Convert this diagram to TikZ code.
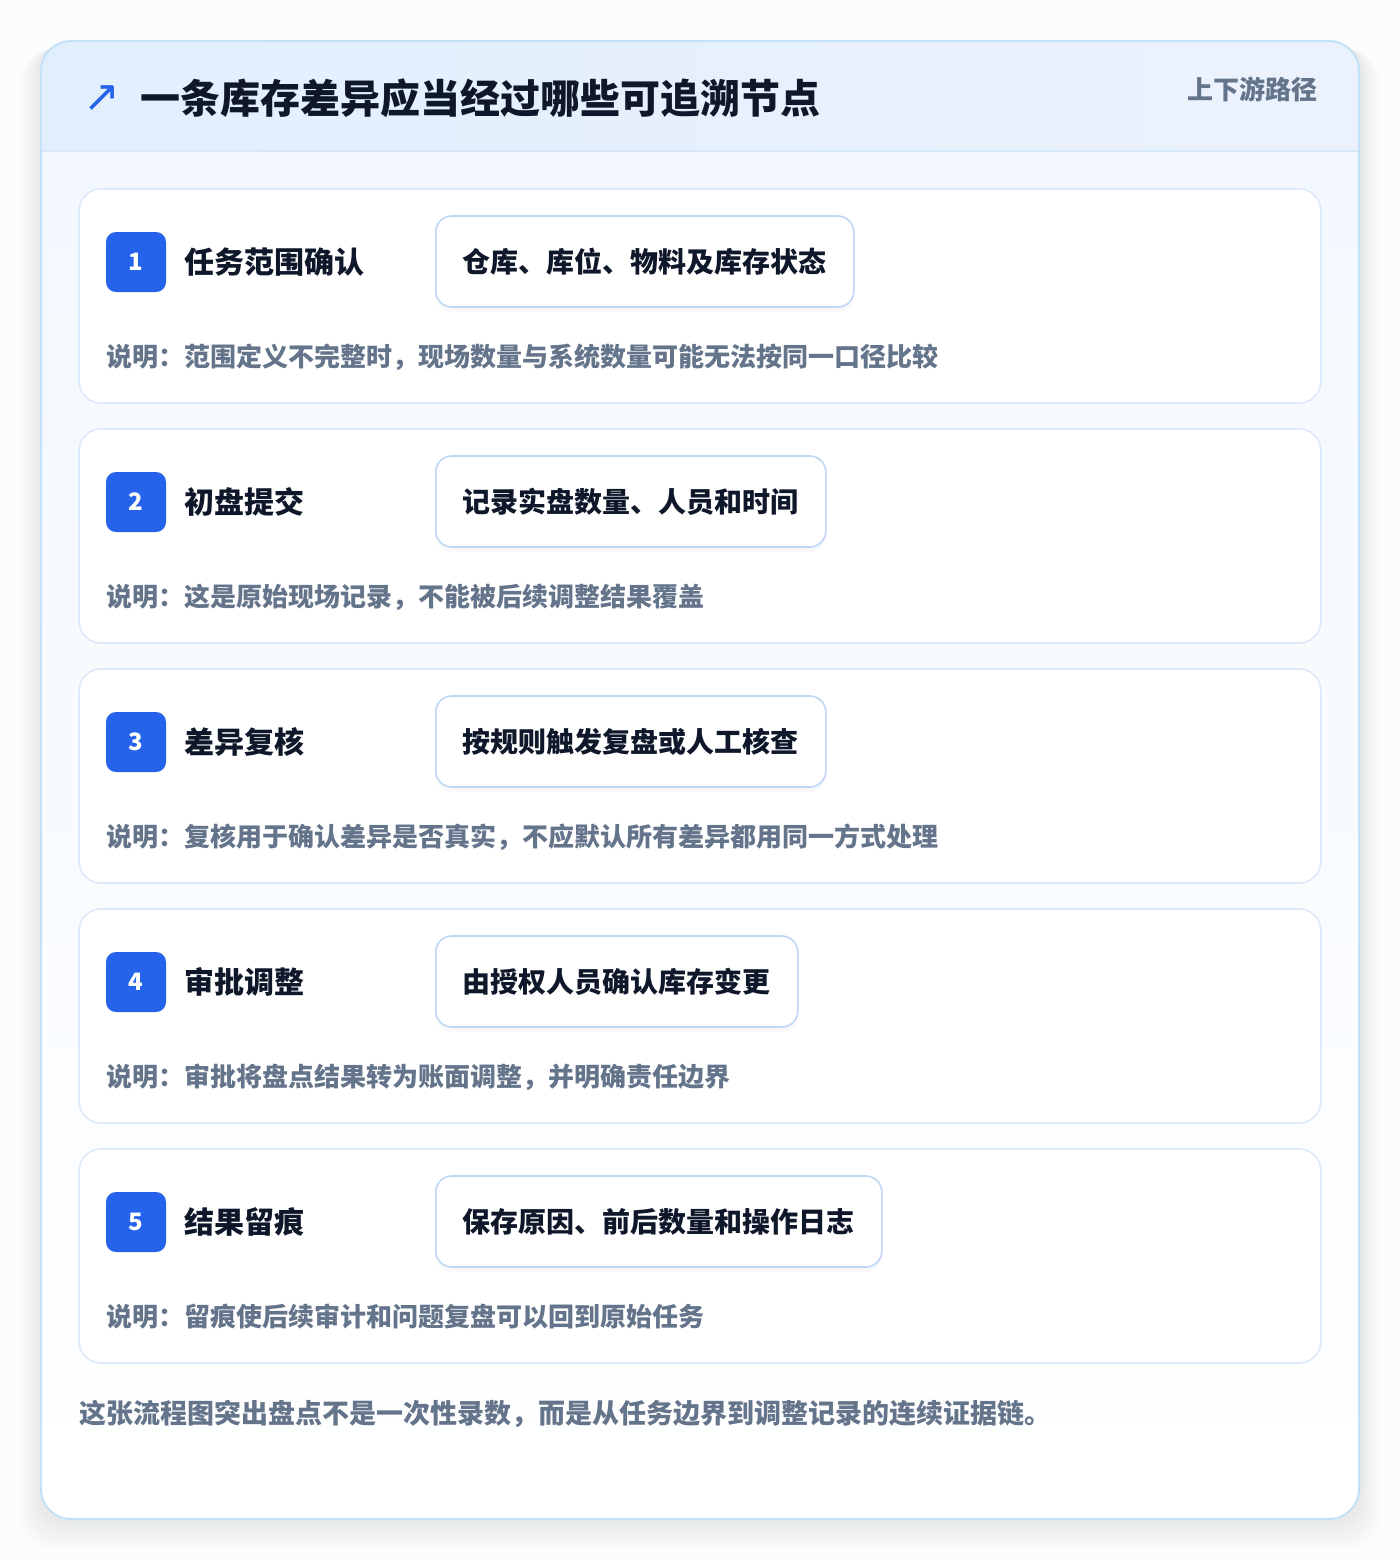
\documentclass[tikz,border=0pt]{standalone}
\usepackage{fontspec}
\setmainfont{Noto Sans CJK SC}
\newfontfamily\symfont{DejaVu Sans}
\usetikzlibrary{positioning,shadows}
\definecolor{ink}{HTML}{0F172A}
\definecolor{muted}{HTML}{64748B}
\definecolor{brand}{HTML}{2563EB}
\definecolor{frameline}{HTML}{C4E2F7}
\definecolor{headline}{HTML}{D6E8FA}
\definecolor{cardline}{HTML}{DCEAFB}
\definecolor{boxline}{HTML}{BFD7F5}
\definecolor{headleft}{HTML}{E1EFFD}
\definecolor{headright}{HTML}{ECF2FD}
\definecolor{bodytop}{HTML}{F2F8FE}
\definecolor{pagebg}{HTML}{FBFCFD}

\begin{document}
\begin{tikzpicture}[x=0.5pt,y=-0.5pt,
	card/.style={draw=cardline, line width=0.8pt, fill=white, rounded corners=11pt},
	badge/.style={fill=brand, rounded corners=5pt, minimum size=30pt, inner sep=0pt, text=white, font=\bfseries\fontsize{12}{12}\selectfont},
	steptitle/.style={font=\bfseries\fontsize{15}{15}\selectfont, text=ink, inner sep=0pt},
	detail/.style={draw=boxline, line width=0.8pt, fill=white, rounded corners=8pt, minimum height=45.5pt, inner xsep=13.5pt, anchor=west, font=\bfseries\fontsize{14}{14}\selectfont, text=ink, drop shadow={opacity=0.05, shadow xshift=0pt, shadow yshift=-2.5pt}},
	note/.style={font=\bfseries\fontsize{13}{13}\selectfont, text=muted, anchor=west, inner sep=0pt}]
	\useasboundingbox (0,0) rectangle (1400,1560);
	\fill[pagebg] (0,0) rectangle (1400,1560);
	\foreach \k in {1,...,10}
		\fill[black, opacity=0.009, rounded corners=15pt] ({41-2*\k},{41+1*\k}) rectangle ({1359+2*\k},{1519+3*\k});
	\begin{scope}
		\clip[rounded corners=15pt] (41,41) rectangle (1359,1519);
		\shade[left color=headleft, right color=headright] (41,41) rectangle (1359,151);
		\shade[top color=bodytop, bottom color=white] (41,151) rectangle (1359,1519);
	\end{scope}
	\draw[headline, line width=0.8pt] (41,151) -- (1359,151);
	\draw[frameline, line width=1pt, rounded corners=15pt] (41,41) rectangle (1359,1519);

	\node[text=brand, font=\symfont\fontsize{22}{22}\selectfont, inner sep=0pt] (icon) at (102,99) {↗};
	\node[anchor=west, font=\bfseries\fontsize{20}{20}\selectfont, text=ink, inner sep=0pt] (title) at (140,98) {一条库存差异应当经过哪些可追溯节点};
	\node[anchor=east, font=\bfseries\fontsize{13}{13}\selectfont, text=muted, inner sep=0pt] (route) at (1318,89) {上下游路径};

	\foreach \i/\name/\detail/\remark in {
		1/任务范围确认/{仓库、库位、物料及库存状态}/{说明：范围定义不完整时，现场数量与系统数量可能无法按同一口径比较},
		2/初盘提交/{记录实盘数量、人员和时间}/{说明：这是原始现场记录，不能被后续调整结果覆盖},
		3/差异复核/{按规则触发复盘或人工核查}/{说明：复核用于确认差异是否真实，不应默认所有差异都用同一方式处理},
		4/审批调整/{由授权人员确认库存变更}/{说明：审批将盘点结果转为账面调整，并明确责任边界},
		5/结果留痕/{保存原因、前后数量和操作日志}/{说明：留痕使后续审计和问题复盘可以回到原始任务}}{
		\pgfmathtruncatemacro\top{189+240*(\i-1)}
		\draw[card] (79,\top) rectangle (1321,{\top+214});
		\node[badge] (badge-\i) at (136,{\top+73}) {\i};
		\node[steptitle, right=9pt of badge-\i] (name-\i) {\name};
		\node[detail] (detail-\i) at (435,{\top+72.5}) {\detail};
		\node[note] (remark-\i) at (106,{\top+168}) {\remark};
	}

	\node[note, font=\bfseries\fontsize{13.5}{13.5}\selectfont] (summary) at (79,1414) {这张流程图突出盘点不是一次性录数，而是从任务边界到调整记录的连续证据链。};
\end{tikzpicture}
\end{document}
